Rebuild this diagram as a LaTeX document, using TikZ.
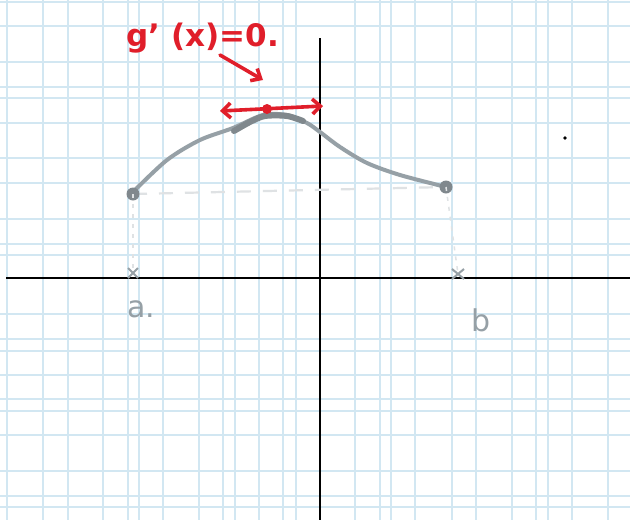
\documentclass[tikz,border=0pt]{standalone}
\usepackage{fontspec}
\setmainfont{DejaVu Sans}
\usetikzlibrary{arrows.meta,positioning,calc}
\definecolor{gridblue}{RGB}{210,231,242}
\definecolor{penred}{RGB}{224,30,42}
\definecolor{pengray}{RGB}{150,160,166}
\tikzset{
  gridline/.style={gridblue,line width=1.1pt},
  axisline/.style={black,line width=2.6pt},
  redpen/.style={penred,line width=3.6pt,line cap=round},
  graypen/.style={pengray,line width=4pt,line cap=round},
  droppen/.style={pengray!30,line width=1.5pt,dash pattern=on 4pt off 6pt},
  handlabel/.style={pengray,font=\fontsize{30}{30}\selectfont,inner sep=0pt}
}

\begin{document}
\begin{tikzpicture}[x=1pt,y=-1pt,>=Latex]
\useasboundingbox (0,0) rectangle (630,520);
\fill[white] (0,0) rectangle (630,520);
% paper grid
\foreach \gx in {7,43,68,103,128,139,163,199,223,235,259,283,296,355,380,391,415,452,476,512,536,548,572,608}
  \draw[gridline] (\gx,0) -- (\gx,520);
\foreach \gy in {2,26,62,87,98,123,158,183,219,244,255,314,339,351,375,399,411,435,471,496,507}
  \draw[gridline] (0,\gy) -- (630,\gy);
% axes
\coordinate (xl) at (6,278);
\coordinate (xr) at (630,278);
\coordinate (yt) at (320,38);
\coordinate (yb) at (320,520);
\draw[axisline] (xl) -- (xr);
\draw[axisline] (yt) -- (yb);
% the curve g
\coordinate (pa) at (133,194);
\coordinate (pb) at (446,187);
\draw[graypen] plot[smooth] coordinates {(133,192) (167,160) (200,140) (233,128) (263,115) (287,115) (307,123) (320,132) (340,147) (367,163) (400,175) (446,187)};
\draw[pengray!85!black,line width=6pt,line cap=round] plot[smooth] coordinates {(234,131) (250,122) (265,116) (287,116) (303,121)};
\draw[pengray!30,line width=2.2pt,dash pattern=on 14pt off 12pt] (pa) -- (pb);
\fill[pengray!85!black] (pa) circle (6.5);
\fill[pengray!85!black] (pb) circle (6.5);
% a and b on the axis
\coordinate (ca) at (133,273);
\coordinate (cb) at (458,274);
\draw[droppen] (pa) -- (ca);
\draw[droppen] (pb) -- (cb);
\draw[pengray,line width=2pt] ($(ca)+(-5,-5)$) -- ($(ca)+(5,5)$) ($(ca)+(-5,5)$) -- ($(ca)+(5,-5)$);
\draw[pengray,line width=2pt] ($(cb)+(-6,-5)$) -- ($(cb)+(6,5)$) ($(cb)+(-6,5)$) -- ($(cb)+(6,-5)$);
\node[handlabel] (lbla) at (141,309) {a.};
\node[handlabel] (lblb) at (481,320) {b};
% g'(x)=0 at the top
\node[penred,font=\fontsize{31}{31}\bfseries\selectfont,inner sep=0pt] (gtext) at (203,38) {g' (x)=0.};
\coordinate (arrtail) at (220,55);
\coordinate (arrtip) at (263,80);
\draw[redpen,-{Straight Barb[length=8pt,width=14pt]}] (arrtail) -- (arrtip);
\coordinate (tl) at (220,111);
\coordinate (tr) at (323,106);
\draw[redpen,{Straight Barb[length=8pt,width=15pt]}-{Straight Barb[length=8pt,width=15pt]}] (tl) -- (tr);
\fill[penred] (267,109) circle (5);
% stray dot
\fill[black] (565,138) circle (1.8);
\end{tikzpicture}
\end{document}
